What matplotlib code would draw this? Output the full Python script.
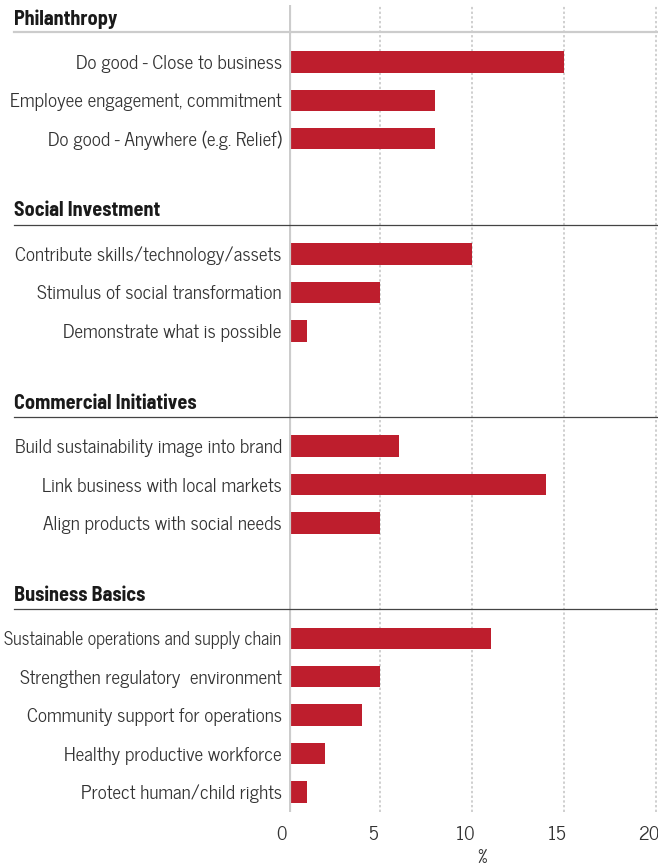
import matplotlib
matplotlib.use("Agg")
import matplotlib.pyplot as plt
import matplotlib.transforms as mtransforms

groups = ["Philanthropy", "Social Investment", "Commercial Initiatives", "Business Basics"]
labels = [
    ["Do good - Close to business", "Employee engagement, commitment", "Do good - Anywhere (e.g. Relief)"],
    ["Contribute skills/technology/assets", "Stimulus of social transformation", "Demonstrate what is possible"],
    ["Build sustainability image into brand", "Link business with local markets", "Align products with social needs"],
    ["Sustainable operations and supply chain", "Strengthen regulatory  environment",
     "Community support for operations", "Healthy productive workforce", "Protect human/child rights"],
]
values = [
    [15, 8, 8],
    [10, 5, 1],
    [6, 14, 5],
    [11, 5, 4, 2, 1],
]
xticks = [0, 5, 10, 15, 20]

FONT = ["News Cycle", "Liberation Sans", "DejaVu Sans"]
HEAD = ["Barlow Semi Condensed", "News Cycle", "Liberation Sans"]
RED = "#BE1E2D"
TXT = "#333333"

fig = plt.figure(figsize=(6.58, 8.68), dpi=100)
W, H = 658, 868
ax = fig.add_axes([288.6 / W, (H - 812) / H, (657.6 - 288.6) / W, 807 / H])

# lay out rows: each group gets its bars, then two empty rows for the next header
ypos, ylabs, xvals, starts = [], [], [], []
pos = 0
for labs, vals in zip(labels, values):
    starts.append(pos)
    for lab, v in zip(labs, vals):
        ypos.append(pos)
        ylabs.append(lab)
        xvals.append(v)
        pos += 1
    pos += 2

ax.barh(ypos, xvals, height=0.56, color=RED, zorder=2)
ax.set_xlim(0, 20.1)
ax.set_ylim(19.52, -1.48)

ax.set_yticks(ypos)
ax.set_yticklabels(ylabs, family=FONT, fontsize=13.8, color=TXT)
ax.tick_params(axis="y", length=0, pad=5)
for lbl in ax.get_yticklabels():
    if len(lbl.get_text()) > 37:
        lbl.set_fontsize(12.9)

ax.set_xticks(xticks)
ax.set_xticklabels([str(t) for t in xticks], family=FONT, fontsize=13.5, color=TXT)
ax.tick_params(axis="x", length=0, pad=10)
shift = mtransforms.ScaledTranslation(-7 / 100, 0, fig.dpi_scale_trans)
for lbl in ax.get_xticklabels():
    lbl.set_transform(lbl.get_transform() + shift)

ax.set_xlabel("%", family=FONT, fontsize=13, color=TXT)
ax.xaxis.set_label_coords((482 - 288.6) / 369, -0.046)

for s in ax.spines.values():
    s.set_visible(False)

# dotted gridlines and the solid zero line
for t in xticks[1:]:
    ax.axvline(t, color="#cccccc", lw=1.3, ls=(0, (1.3, 1.3)), zorder=1)
ax.axvline(0, color="#cccccc", lw=2.3, zorder=3)

# group headers with rules across the full width
trans = mtransforms.blended_transform_factory(fig.transFigure, ax.transData)
for i, (g, s) in enumerate(zip(groups, starts)):
    ax.text(14 / W, s - 1.12, g, transform=trans, family=HEAD, fontweight="bold",
            fontsize=14.5, color="#1a1a1a", va="center", ha="left")
    if i == 0:
        ax.plot([14 / W, 1], [s - 0.78, s - 0.78], transform=trans, color="#cccccc",
                lw=1.6, clip_on=False, zorder=4)
    else:
        ax.plot([14 / W, 1], [s - 0.76, s - 0.76], transform=trans, color="#444444",
                lw=0.9, clip_on=False, zorder=4)

fig.savefig("out.png", dpi=100)
